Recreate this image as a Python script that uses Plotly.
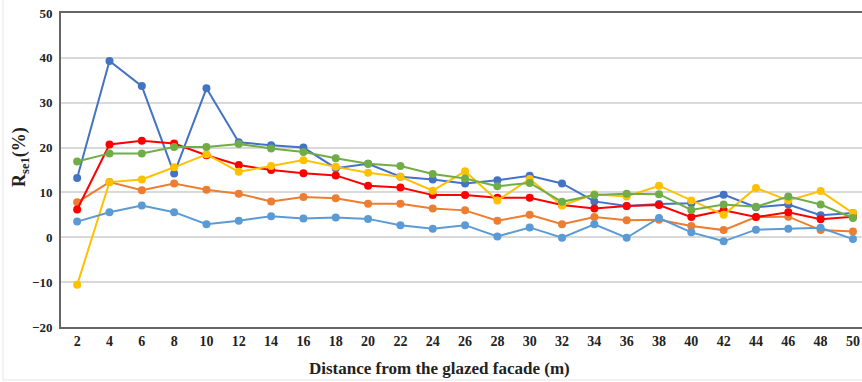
import plotly.graph_objects as go

distance = [str(d) for d in range(2, 51, 2)]

dark_blue = [13.2, 39.3, 33.7, 14.2, 33.2, 21.2, 20.5, 20.0, 15.4, 16.4, 13.5, 12.9, 12.0,
             12.7, 13.7, 12.0, 8.0, 7.0, 7.4, 7.6, 9.5, 6.7, 7.3, 4.9, 5.4]
orange = [7.8, 12.3, 10.5, 12.0, 10.6, 9.7, 8.0, 9.0, 8.7, 7.5, 7.5, 6.4, 6.0,
          3.7, 5.0, 2.9, 4.5, 3.8, 3.9, 2.5, 1.6, 4.5, 4.6, 1.6, 1.3]
red = [6.2, 20.7, 21.5, 20.9, 18.3, 16.1, 15.0, 14.3, 13.8, 11.5, 11.1, 9.4, 9.4,
       8.8, 8.8, 7.2, 6.4, 7.0, 7.2, 4.5, 6.0, 4.5, 5.6, 4.0, 4.6]
yellow = [-10.6, 12.3, 12.9, 15.6, 18.5, 14.6, 15.9, 17.2, 15.7, 14.4, 13.5, 10.4, 14.7,
          8.2, 13.0, 7.1, 9.6, 9.1, 11.5, 8.2, 5.0, 11.0, 8.2, 10.3, 5.4]
light_blue = [3.5, 5.6, 7.1, 5.6, 2.9, 3.7, 4.7, 4.2, 4.4, 4.1, 2.7, 1.9, 2.7,
              0.2, 2.2, -0.1, 2.9, -0.1, 4.3, 1.1, -0.9, 1.7, 1.9, 2.1, -0.4]
green = [16.9, 18.7, 18.7, 20.1, 20.1, 20.8, 19.8, 19.0, 17.6, 16.4, 15.9, 14.1, 13.1,
         11.4, 12.1, 7.9, 9.4, 9.7, 9.6, 6.1, 7.3, 6.8, 9.1, 7.3, 4.3]

series = [
    ("Series 1", dark_blue, "#4472C4"),
    ("Series 2", orange, "#ED7D31"),
    ("Series 3", red, "#FF0000"),
    ("Series 4", yellow, "#FFC000"),
    ("Series 5", light_blue, "#5B9BD5"),
    ("Series 6", green, "#70AD47"),
]

fig = go.Figure()
for name, vals, col in series:
    fig.add_trace(go.Scatter(
        x=distance, y=vals, mode="lines+markers", name=name,
        line=dict(color=col, width=2),
        marker=dict(color=col, size=8),
    ))

font_family = "Liberation Serif, Times New Roman, serif"

fig.update_layout(
    width=862, height=382,
    margin=dict(l=61, r=0, t=13, b=55),
    paper_bgcolor="white", plot_bgcolor="white",
    showlegend=False,
    font=dict(family=font_family, color="#222222", size=14),
    xaxis=dict(
        type="category", range=[-0.5, 24.28],
        showgrid=False, showline=True, linecolor="#666666", linewidth=2,
        mirror=True, ticks="", ticklen=0,
        tickfont=dict(size=14, family=font_family, color="#222222", weight="bold"),
    ),
    yaxis=dict(
        range=[-20, 50], dtick=10, showgrid=True, gridcolor="#D9D9D9", gridwidth=1.5,
        zeroline=False, showline=True, linecolor="#666666", linewidth=2,
        ticks="", tickfont=dict(size=13, family=font_family, color="#222222", weight="bold"),
        ticklabelstandoff=4,
    ),
    annotations=[
        dict(text="<b>R<sub>se1</sub>(%)</b>", xref="paper", yref="paper",
             x=(20 - 61) / 801, y=(327 - 157) / 314, xanchor="center", yanchor="middle",
             textangle=-90, showarrow=False, font=dict(size=18, family=font_family, color="#222222")),
        dict(text="<b>Distance from the glazed facade (m)</b>", xref="paper", yref="paper",
             x=(439 - 61) / 801, y=(327 - 368) / 314, xanchor="center", yanchor="middle",
             showarrow=False, font=dict(size=17, family=font_family, color="#222222")),
    ],
    shapes=[
        dict(type="rect", xref="paper", yref="paper",
             x0=(3 - 61) / 801, x1=(900 - 61) / 801, y0=(327 - 380) / 314, y1=(327 + 20) / 314,
             line=dict(color="#E6E6E6", width=1), layer="below"),
    ],
)

fig.write_html("out.html", config={"displayModeBar": False},
               post_script="document.body.style.margin='0';document.body.style.overflow='hidden';")
